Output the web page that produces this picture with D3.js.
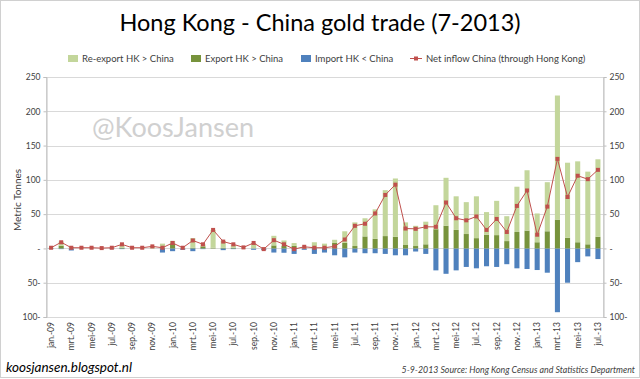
<!DOCTYPE html>
<html><head><meta charset="utf-8">
<script src="https://cdn.jsdelivr.net/npm/d3@7"></script>
<style>
html,body{margin:0;padding:0;background:#fff;}
svg{display:block;font-family:Lato,"Open Sans",Arial,sans-serif;}
</style></head>
<body>
<script>
const monthNames = ["jan.","feb.","mrt.","apr.","mei","jun.","jul.","aug.","sep.","okt.","nov.","dec."];
const years = ["09","10","11","12","13"];
const categories = [];
years.forEach(y => monthNames.forEach(m => { if (categories.length < 55) categories.push(m + "-" + y); }));

const reexport = [1,6,2,1,1,0.5,1,4,1,1,3,6,4,1,14,3,26,10,4,1,8,1,14,8,4,2,8,6,
  4.6,17,34.5,26.5,43,67,85,33,29.5,33,35,70,49,46.5,61,33,50,36.3,66,88,42,71.6,181,109.5,118,106,113];
const exportv = [0,4,0,0,0,0,0,1,0,0,0,1,7,0,1,3,1,1,1,0,0,0,4.4,3.6,3.8,0,1,1,
  8,8,3.5,17.5,14,18,17,5,3.5,6,28,33,27,21,15,20,19.4,10.7,24,26,9,25,42,15.5,9,6,17];
const importv = [-1,-1,-3,0,0,0,-1,-1,0,0,0,-6,-4,-2,-4,-1,0,-2.5,-1,0,-2,-2.5,-6,-6.3,-8,-2,-8,-6,
  -10,-13,-6,-7,-7,-8,-10,-10,-4.5,-8,-32,-37,-32,-27,-29,-26,-27,-23,-29,-30,-31.5,-35.4,-93,-50,-20,-11.6,-15.5];
const net = [1,9,1,1,1,0.5,1,6,1,1,3,1,8,1,11.6,6,27,10,6,1.5,8,-1,12,6,-1,2.4,1,1,
  3,13,33,36,51,78,93,29,28.6,31.5,31.5,67,44,41,46.6,27,43,24,62,84.5,20,61,130.6,75,106,101,114.6];
const yTicks = [-100,-50,0,50,100,150,200,250];
const xTickLabels = categories.filter((d,i) => i % 2 === 0);

const seriesNames = ["Re-export HK > China","Export HK > China","Import HK < China","Net inflow China (through Hong Kong)"];
const colors = {re:"#c3d69b", ex:"#77933c", im:"#4f81bd", net:"#c0504d"};

const W = 640, H = 379;
const svg = d3.select("body").append("svg").attr("width", W).attr("height", H);

// outer frame
svg.append("rect").attr("x",0.5).attr("y",0.5).attr("width",W-1).attr("height",H-2)
  .attr("fill","#fff").attr("stroke","#d0d0d0");

const L = 46, R = 603, T = 77, B = 317;
const x = d3.scaleBand().domain(d3.range(categories.length)).range([L,R]).paddingInner(0.5).paddingOuter(0.25);
const y = d3.scaleLinear().domain([-100,250]).range([B,T]);
const fmt = v => v === 0 ? "-" : (v < 0 ? Math.abs(v) + "-" : String(v));

// gridlines
svg.append("g").selectAll("line").data(yTicks).join("line")
  .attr("x1",L).attr("x2",R).attr("y1",d=>Math.round(y(d))+0.5).attr("y2",d=>Math.round(y(d))+0.5)
  .attr("stroke","#d9d9d9").attr("stroke-width",1.2);

// plot border
svg.append("rect").attr("x",L+0.5).attr("y",T+0.5).attr("width",R-L).attr("height",B-T)
  .attr("fill","none").attr("stroke","#d9d9d9");

// watermark
svg.append("text").attr("x",92).attr("y",137).attr("font-size",27).attr("fill","#d0d0d0")
  .text("@KoosJansen");

// axes
const yl = svg.append("g").attr("transform",`translate(${L+0.5},0)`)
  .call(d3.axisLeft(y).tickValues(yTicks).tickFormat(fmt).tickSize(3).tickPadding(3));
const yr = svg.append("g").attr("transform",`translate(${R+0.5},0)`)
  .call(d3.axisRight(y).tickValues(yTicks).tickFormat(fmt).tickSize(3).tickPadding(3));
[yl,yr].forEach(g => {
  g.select(".domain").attr("stroke","#bfbfbf");
  g.selectAll(".tick line").attr("stroke","#bfbfbf");
  g.selectAll(".tick text").attr("fill","#404040").attr("font-size",8.5).attr("font-family","Lato,Arial,sans-serif");
});

// bars
const barW = x.bandwidth();
const gb = svg.append("g");
gb.selectAll("rect.im").data(importv).join("rect").attr("class","im")
  .attr("x",(d,i)=>x(i)).attr("width",barW)
  .attr("y",y(0)).attr("height",d=>y(d)-y(0)).attr("fill",colors.im);
gb.selectAll("rect.ex").data(exportv).join("rect").attr("class","ex")
  .attr("x",(d,i)=>x(i)).attr("width",barW)
  .attr("y",d=>y(d)).attr("height",d=>y(0)-y(d)).attr("fill",colors.ex);
gb.selectAll("rect.re").data(reexport).join("rect").attr("class","re")
  .attr("x",(d,i)=>x(i)).attr("width",barW)
  .attr("y",(d,i)=>y(d+exportv[i])).attr("height",(d,i)=>y(exportv[i])-y(d+exportv[i])).attr("fill",colors.re);

// net line
const cx = i => x(i) + barW/2;
svg.append("path").datum(net)
  .attr("d", d3.line().x((d,i)=>cx(i)).y(d=>y(d)))
  .attr("fill","none").attr("stroke",colors.net).attr("stroke-width",1);
svg.append("g").selectAll("rect").data(net).join("rect")
  .attr("x",(d,i)=>cx(i)-2).attr("y",d=>y(d)-2).attr("width",4).attr("height",4)
  .attr("fill",colors.net);

// x labels
svg.append("g").selectAll("text").data(xTickLabels).join("text")
  .attr("transform",(d,k)=>`translate(${cx(k*2)+3},322) rotate(-90)`)
  .attr("text-anchor","end").attr("font-size",8.5).attr("fill","#404040").text(d=>d);

// y title
svg.append("text").attr("transform","translate(21,200) rotate(-90)").attr("text-anchor","middle")
  .attr("font-size",10).attr("fill","#404040").text("Metric Tonnes");

// title
svg.append("text").attr("x",320).attr("y",31).attr("text-anchor","middle")
  .attr("font-size",23.5).attr("fill","#000").text("Hong Kong - China gold trade (7-2013)");

// legend
const lg = svg.append("g");
const legendItems = [
  {name:seriesNames[0], c:colors.re, x:68, type:"bar"},
  {name:seriesNames[1], c:colors.ex, x:191, type:"bar"},
  {name:seriesNames[2], c:colors.im, x:301, type:"bar"},
  {name:seriesNames[3], c:colors.net, x:410, type:"line"}
];
legendItems.forEach(it => {
  if (it.type === "bar") {
    lg.append("rect").attr("x",it.x).attr("y",55).attr("width",10).attr("height",7).attr("fill",it.c);
  } else {
    lg.append("line").attr("x1",it.x).attr("x2",it.x+12).attr("y1",58.5).attr("y2",58.5).attr("stroke",it.c);
    lg.append("rect").attr("x",it.x+4).attr("y",56.5).attr("width",4).attr("height",4).attr("fill",it.c);
  }
  lg.append("text").attr("x",it.x + (it.type==="bar"?14:16)).attr("y",62).attr("font-size",9.5).attr("fill","#404040").text(it.name);
});

// footer
svg.append("text").attr("x",6).attr("y",372).attr("font-size",13.5).attr("font-style","italic")
  .attr("fill","#000").text("koosjansen.blogspot.nl");
svg.append("text").attr("x",635).attr("y",373).attr("text-anchor","end").attr("font-size",8.8).attr("font-style","italic")
  .attr("fill","#404040").text("5-9-2013 Source: Hong Kong Census and Statistics Department");
</script>
</body></html>
